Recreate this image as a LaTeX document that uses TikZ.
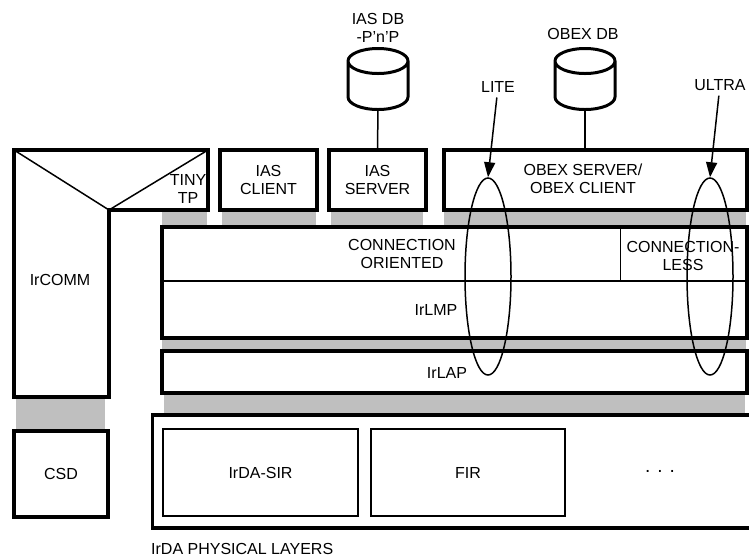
\documentclass[tikz,border=0pt]{standalone}
\usepackage{fontspec}
\setmainfont{Liberation Sans}
\usetikzlibrary{positioning,
				shapes.geometric,
				arrows.meta}
\tikzset{
	layerbox/.style={draw,line width=3.6pt,minimum width=#1,inner sep=0pt,align=center},
	thinbox/.style={draw,line width=1.5pt,inner sep=0pt},
	tag/.style={inner sep=0pt,align=center},
	gap/.style={fill=black!25,draw=none},
	loopring/.style={draw,ellipse,line width=1.5pt,inner sep=0pt,minimum width=46pt,minimum height=197pt},
	dbline/.style={line width=3pt}
}
\begin{document}
\begin{tikzpicture}[x=1pt,y=-1pt,font=\fontsize{16}{18}\selectfont]
		\useasboundingbox (0,0) rectangle (749,558);
		% grey bands between the layers
		\fill[gap] (162,211) rectangle (207,227);
		\fill[gap] (222,211) rectangle (316,227);
		\fill[gap] (331,211) rectangle (423,227);
		\fill[gap] (444,211) rectangle (746,227);
		\fill[gap] (162,339) rectangle (746,351);
		\fill[gap] (164,394) rectangle (745,414);
		\fill[gap] (16,398) rectangle (105,431);
		% IrCOMM and TINY TP
		\draw[line width=3.6pt,line join=miter] (14,150) -- (208,150) -- (208,210) -- (109,210) -- (109,397) -- (14,397) -- cycle;
		\draw[line width=1.5pt] (14,150) -- (109,210) -- (208,150);
		\node[tag] (ircomm) at (60,280) {IrCOMM};
		\node[tag] (tinytp) at (188,189) {TINY\\TP};
		% upper row
		\node[layerbox=97pt,minimum height=60pt] (iasclient) at (268.5,180) {IAS\\CLIENT};
		\node[layerbox=97pt,minimum height=60pt] (iasserver) at (377.5,180) {IAS\\SERVER};
		\node[layerbox=303pt,minimum height=60pt] (obexbox) at (595.5,180) {};
		\node[tag] (obexserver) at (583,179) {OBEX SERVER/\\OBEX CLIENT};
		% IrLMP and IrLAP
		\node[layerbox=585pt,minimum height=111pt] (irlmpbox) at (454.5,282.5) {};
		\draw[line width=1.5pt] (irlmpbox.west |- 0,281) -- (irlmpbox.east |- 0,281);
		\draw[line width=1.5pt] (620.5,227) -- (620.5,281);
		\node[tag] (oriented) at (402,254) {CONNECTION\\ORIENTED};
		\node[tag] (connless) at (683,256) {CONNECTION-\\LESS};
		\node[tag] (irlmp) at (436,310) {IrLMP};
		\node[layerbox=585pt,minimum height=42pt] (irlapbox) at (454.5,372) {};
		\node[tag] (irlap) at (447,373) {IrLAP};
		% bottom row, its right side runs off the page
		\node[layerbox=94pt,minimum height=86pt] (csd) at (61,474) {CSD};
		\draw[line width=3.6pt,line join=miter] (749,415) -- (152.5,415) -- (152.5,528) -- (749,528);
		\node[thinbox,minimum width=195pt,minimum height=87pt] (sir) at (260.5,472.5) {IrDA-SIR};
		\node[thinbox,minimum width=194pt,minimum height=87pt] (fir) at (468,472.5) {FIR};
		\node[tag,font=\fontsize{19}{18}\selectfont] (dots) at (660,471) {. . .};
		\node[tag,anchor=west] (physlabel) at (151,549) {IrDA PHYSICAL LAYERS};
		% databases
		\foreach \dbx/\dbname in {378/iasdb,585/obexdb}{
			\draw[dbline] (\dbx-30,61) arc (180:360:30pt and 12.5pt) arc (0:180:30pt and 12.5pt) -- (\dbx-30,97) arc (180:360:30pt and 12.5pt) -- (\dbx+30,61);
			\coordinate (\dbname) at (\dbx,110);
		}
		\node[tag] (iasdbtag) at (378,28) {IAS DB\\-P'n'P};
		\node[tag] (obexdbtag) at (583,34) {OBEX DB};
		\draw[line width=1.5pt] (iasdb) -- (iasserver.north);
		\draw[line width=1.5pt] (obexdb) -- (obexdb |- obexbox.north);
		% LITE and ULTRA
		\node[loopring] (litering) at (488,276.5) {};
		\node[loopring] (ultraring) at (710,276.5) {};
		\node[tag,outer sep=5pt] (lite) at (498,87) {LITE};
		\node[tag,outer sep=5pt] (ultra) at (720,85) {ULTRA};
		\draw[-{Triangle[length=15pt,width=11pt]},line width=1.5pt] (lite) -- (litering.north);
		\draw[-{Triangle[length=15pt,width=11pt]},line width=1.5pt] (ultra) -- (ultraring.north);
\end{tikzpicture}
\end{document}
